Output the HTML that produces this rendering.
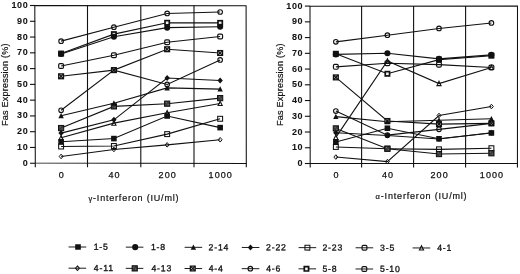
<!DOCTYPE html>
<html><head><meta charset="utf-8"><title>Fas Expression</title>
<style>
html,body{margin:0;padding:0;background:#fff;}
body{width:520px;height:274px;overflow:hidden;}
svg{display:block;}
text{stroke:#111;stroke-width:0.25px;font-family:"Liberation Sans",sans-serif;fill:#111;}
.t{font-size:9px;letter-spacing:0.6px;font-weight:bold;stroke-width:0.05px;}
.x{font-size:9px;letter-spacing:1.1px;}
.ti{font-size:9px;stroke-width:0.2px;}
.lg{font-size:8.7px;letter-spacing:0.8px;stroke-width:0.3px;}
</style></head><body>
<svg width="520" height="274" viewBox="0 0 520 274">
<rect width="520" height="274" fill="#fff"/>
<path d="M34.8 5.4L246.1 5.8L246.3 163.5L35.3 163.0Z" fill="none" stroke="#111" stroke-width="1.05"/>
<path d="M35.30 163.25V167.25" stroke="#111" stroke-width="1.1"/>
<path d="M87.50 5.5V167.25" stroke="#111" stroke-width="1.1"/>
<path d="M140.80 5.5V167.25" stroke="#111" stroke-width="1.1"/>
<path d="M194.00 5.5V167.25" stroke="#111" stroke-width="1.1"/>
<path d="M246.30 163.25V167.25" stroke="#111" stroke-width="1.1"/>
<path d="M30.00 163.25H35.2" stroke="#111" stroke-width="1.1"/>
<text x="28.30" y="165.75" text-anchor="end" class="t">0</text>
<path d="M30.00 147.47H35.2" stroke="#111" stroke-width="1.1"/>
<text x="28.30" y="149.97" text-anchor="end" class="t">10</text>
<path d="M30.00 131.70H35.2" stroke="#111" stroke-width="1.1"/>
<text x="28.30" y="134.20" text-anchor="end" class="t">20</text>
<path d="M30.00 115.93H35.2" stroke="#111" stroke-width="1.1"/>
<text x="28.30" y="118.43" text-anchor="end" class="t">30</text>
<path d="M30.00 100.15H35.2" stroke="#111" stroke-width="1.1"/>
<text x="28.30" y="102.65" text-anchor="end" class="t">40</text>
<path d="M30.00 84.38H35.2" stroke="#111" stroke-width="1.1"/>
<text x="28.30" y="86.88" text-anchor="end" class="t">50</text>
<path d="M30.00 68.60H35.2" stroke="#111" stroke-width="1.1"/>
<text x="28.30" y="71.10" text-anchor="end" class="t">60</text>
<path d="M30.00 52.83H35.2" stroke="#111" stroke-width="1.1"/>
<text x="28.30" y="55.33" text-anchor="end" class="t">70</text>
<path d="M30.00 37.05H35.2" stroke="#111" stroke-width="1.1"/>
<text x="28.30" y="39.55" text-anchor="end" class="t">80</text>
<path d="M30.00 21.28H35.2" stroke="#111" stroke-width="1.1"/>
<text x="28.30" y="23.78" text-anchor="end" class="t">90</text>
<path d="M30.00 5.50H35.2" stroke="#111" stroke-width="1.1"/>
<text x="28.30" y="8.00" text-anchor="end" class="t">100</text>
<text x="61.70" y="177.85" text-anchor="middle" class="x">0</text>
<text x="114.50" y="177.85" text-anchor="middle" class="x">40</text>
<text x="167.75" y="177.85" text-anchor="middle" class="x">200</text>
<text x="220.75" y="177.85" text-anchor="middle" class="x">1000</text>
<text x="88.5" y="200.6" textLength="90" lengthAdjust="spacing" class="ti"><tspan font-size='7.5'>γ</tspan>-Interferon (IU/ml)</text>
<text transform="translate(8.3 126.0) rotate(-90)" textLength="82.6" lengthAdjust="spacing" class="ti">Fas Expression (%)</text>
<path d="M61.10 156.45L113.90 149.47L167.15 144.85L220.15 139.76" fill="none" stroke="#111" stroke-width="1.1"/>
<path d="M61.10 146.51L113.90 146.00L167.15 134.12L220.15 118.78" fill="none" stroke="#111" stroke-width="1.1"/>
<path d="M61.10 141.78L113.90 138.58L167.15 115.98L220.15 127.62" fill="none" stroke="#111" stroke-width="1.1"/>
<path d="M61.10 137.83L113.90 123.12L167.15 112.83L220.15 103.48" fill="none" stroke="#111" stroke-width="1.1"/>
<path d="M61.10 133.10L113.90 119.81L167.15 77.97L220.15 80.45" fill="none" stroke="#111" stroke-width="1.1"/>
<path d="M61.10 128.05L113.90 106.40L167.15 103.68L220.15 98.12" fill="none" stroke="#111" stroke-width="1.1"/>
<path d="M61.10 76.31L113.90 70.12L167.15 49.25L220.15 53.00" fill="none" stroke="#111" stroke-width="1.1"/>
<path d="M61.10 115.75L113.90 103.25L167.15 87.90L220.15 89.12" fill="none" stroke="#111" stroke-width="1.1"/>
<path d="M61.10 110.23L113.90 70.12L167.15 84.43L220.15 59.94" fill="none" stroke="#111" stroke-width="1.1"/>
<path d="M61.10 66.06L113.90 55.29L167.15 42.31L220.15 36.44" fill="none" stroke="#111" stroke-width="1.1"/>
<path d="M61.10 41.13L113.90 27.21L167.15 13.45L220.15 11.98" fill="none" stroke="#111" stroke-width="1.1"/>
<path d="M61.10 53.60L113.90 34.15L167.15 22.75L220.15 22.87" fill="none" stroke="#111" stroke-width="1.1"/>
<path d="M61.10 53.91L113.90 36.68L167.15 27.64L220.15 26.81" fill="none" stroke="#111" stroke-width="1.1"/>
<path d="M61.10 154.15L63.05 156.45L61.10 158.75L59.15 156.45Z" fill="none" stroke="#111" stroke-width="1.0"/>
<path d="M113.90 147.17L115.85 149.47L113.90 151.77L111.95 149.47Z" fill="none" stroke="#111" stroke-width="1.0"/>
<path d="M167.15 142.55L169.10 144.85L167.15 147.15L165.20 144.85Z" fill="none" stroke="#111" stroke-width="1.0"/>
<path d="M220.15 137.46L222.10 139.76L220.15 142.06L218.20 139.76Z" fill="none" stroke="#111" stroke-width="1.0"/>
<rect x="58.65" y="144.06" width="4.9" height="4.9" fill="none" stroke="#111" stroke-width="1.05"/>
<rect x="111.45" y="143.55" width="4.9" height="4.9" fill="none" stroke="#111" stroke-width="1.05"/>
<rect x="164.70" y="131.67" width="4.9" height="4.9" fill="none" stroke="#111" stroke-width="1.05"/>
<rect x="217.70" y="116.33" width="4.9" height="4.9" fill="none" stroke="#111" stroke-width="1.05"/>
<rect x="58.30" y="138.98" width="5.6" height="5.6" fill="#111"/>
<rect x="111.10" y="135.78" width="5.6" height="5.6" fill="#111"/>
<rect x="164.35" y="113.18" width="5.6" height="5.6" fill="#111"/>
<rect x="217.35" y="124.82" width="5.6" height="5.6" fill="#111"/>
<path d="M61.10 135.53L63.20 139.93L59.00 139.93Z" fill="none" stroke="#111" stroke-width="1.05"/>
<path d="M113.90 120.82L116.00 125.22L111.80 125.22Z" fill="none" stroke="#111" stroke-width="1.05"/>
<path d="M167.15 110.53L169.25 114.93L165.05 114.93Z" fill="none" stroke="#111" stroke-width="1.05"/>
<path d="M220.15 101.18L222.25 105.58L218.05 105.58Z" fill="none" stroke="#111" stroke-width="1.05"/>
<path d="M61.10 130.10L63.80 133.10L61.10 136.10L58.40 133.10Z" fill="#111"/>
<path d="M113.90 116.81L116.60 119.81L113.90 122.81L111.20 119.81Z" fill="#111"/>
<path d="M167.15 74.97L169.85 77.97L167.15 80.97L164.45 77.97Z" fill="#111"/>
<path d="M220.15 77.45L222.85 80.45L220.15 83.45L217.45 80.45Z" fill="#111"/>
<rect x="58.50" y="125.45" width="5.2" height="5.2" fill="#3a3a3a" stroke="#111" stroke-width="1"/><path d="M59.90 126.85h0.9M61.60 128.95h0.9" stroke="#999" stroke-width="0.8" fill="none"/>
<rect x="111.30" y="103.80" width="5.2" height="5.2" fill="#3a3a3a" stroke="#111" stroke-width="1"/><path d="M112.70 105.20h0.9M114.40 107.30h0.9" stroke="#999" stroke-width="0.8" fill="none"/>
<rect x="164.55" y="101.08" width="5.2" height="5.2" fill="#3a3a3a" stroke="#111" stroke-width="1"/><path d="M165.95 102.48h0.9M167.65 104.58h0.9" stroke="#999" stroke-width="0.8" fill="none"/>
<rect x="217.55" y="95.52" width="5.2" height="5.2" fill="#3a3a3a" stroke="#111" stroke-width="1"/><path d="M218.95 96.92h0.9M220.65 99.02h0.9" stroke="#999" stroke-width="0.8" fill="none"/>
<rect x="58.70" y="73.91" width="4.8" height="4.8" fill="#e8e8e8" stroke="#111" stroke-width="1.3"/><path d="M58.70 73.91L63.50 78.71M63.50 73.91L58.70 78.71" stroke="#111" stroke-width="1.25" fill="none"/>
<rect x="111.50" y="67.72" width="4.8" height="4.8" fill="#e8e8e8" stroke="#111" stroke-width="1.3"/><path d="M111.50 67.72L116.30 72.52M116.30 67.72L111.50 72.52" stroke="#111" stroke-width="1.25" fill="none"/>
<rect x="164.75" y="46.85" width="4.8" height="4.8" fill="#e8e8e8" stroke="#111" stroke-width="1.3"/><path d="M164.75 46.85L169.55 51.65M169.55 46.85L164.75 51.65" stroke="#111" stroke-width="1.25" fill="none"/>
<rect x="217.75" y="50.60" width="4.8" height="4.8" fill="#e8e8e8" stroke="#111" stroke-width="1.3"/><path d="M217.75 50.60L222.55 55.40M222.55 50.60L217.75 55.40" stroke="#111" stroke-width="1.25" fill="none"/>
<path d="M61.10 112.85L63.80 118.25L58.40 118.25Z" fill="#111"/>
<path d="M113.90 100.35L116.60 105.75L111.20 105.75Z" fill="#111"/>
<path d="M167.15 85.00L169.85 90.40L164.45 90.40Z" fill="#111"/>
<path d="M220.15 86.22L222.85 91.62L217.45 91.62Z" fill="#111"/>
<circle cx="61.10" cy="110.23" r="2.3" fill="none" stroke="#111" stroke-width="1.1"/>
<circle cx="113.90" cy="70.12" r="2.3" fill="none" stroke="#111" stroke-width="1.1"/>
<circle cx="167.15" cy="84.43" r="2.3" fill="none" stroke="#111" stroke-width="1.1"/>
<circle cx="220.15" cy="59.94" r="2.3" fill="none" stroke="#111" stroke-width="1.1"/>
<rect x="58.70" y="63.66" width="4.8" height="4.8" rx="1.2" fill="none" stroke="#111" stroke-width="1.2"/>
<rect x="111.50" y="52.89" width="4.8" height="4.8" rx="1.2" fill="none" stroke="#111" stroke-width="1.2"/>
<rect x="164.75" y="39.91" width="4.8" height="4.8" rx="1.2" fill="none" stroke="#111" stroke-width="1.2"/>
<rect x="217.75" y="34.04" width="4.8" height="4.8" rx="1.2" fill="none" stroke="#111" stroke-width="1.2"/>
<circle cx="61.10" cy="41.13" r="2.3" fill="none" stroke="#111" stroke-width="1.1"/>
<circle cx="113.90" cy="27.21" r="2.3" fill="none" stroke="#111" stroke-width="1.1"/>
<circle cx="167.15" cy="13.45" r="2.3" fill="none" stroke="#111" stroke-width="1.1"/>
<circle cx="220.15" cy="11.98" r="2.3" fill="none" stroke="#111" stroke-width="1.1"/>
<rect x="58.95" y="51.45" width="4.3" height="4.3" fill="#f2f2f2" stroke="#111" stroke-width="1.7"/>
<rect x="111.75" y="32.00" width="4.3" height="4.3" fill="#f2f2f2" stroke="#111" stroke-width="1.7"/>
<rect x="165.00" y="20.60" width="4.3" height="4.3" fill="#f2f2f2" stroke="#111" stroke-width="1.7"/>
<rect x="218.00" y="20.72" width="4.3" height="4.3" fill="#f2f2f2" stroke="#111" stroke-width="1.7"/>
<circle cx="61.10" cy="53.91" r="3.05" fill="#111"/>
<circle cx="113.90" cy="36.68" r="3.05" fill="#111"/>
<circle cx="167.15" cy="27.64" r="3.05" fill="#111"/>
<circle cx="220.15" cy="26.81" r="3.05" fill="#111"/>
<path d="M310.0 6.2L517.5 6.1L517.45 163.5L310.2 163.5Z" fill="none" stroke="#111" stroke-width="1.05"/>
<path d="M310.20 163.5V167.5" stroke="#111" stroke-width="1.1"/>
<path d="M361.60 6.1V167.5" stroke="#111" stroke-width="1.1"/>
<path d="M413.60 6.1V167.5" stroke="#111" stroke-width="1.1"/>
<path d="M465.60 6.1V167.5" stroke="#111" stroke-width="1.1"/>
<path d="M517.45 163.5V167.5" stroke="#111" stroke-width="1.1"/>
<path d="M304.90 163.50H310.1" stroke="#111" stroke-width="1.1"/>
<text x="303.20" y="166.00" text-anchor="end" class="t">0</text>
<path d="M304.90 147.76H310.1" stroke="#111" stroke-width="1.1"/>
<text x="303.20" y="150.26" text-anchor="end" class="t">10</text>
<path d="M304.90 132.02H310.1" stroke="#111" stroke-width="1.1"/>
<text x="303.20" y="134.52" text-anchor="end" class="t">20</text>
<path d="M304.90 116.28H310.1" stroke="#111" stroke-width="1.1"/>
<text x="303.20" y="118.78" text-anchor="end" class="t">30</text>
<path d="M304.90 100.54H310.1" stroke="#111" stroke-width="1.1"/>
<text x="303.20" y="103.04" text-anchor="end" class="t">40</text>
<path d="M304.90 84.80H310.1" stroke="#111" stroke-width="1.1"/>
<text x="303.20" y="87.30" text-anchor="end" class="t">50</text>
<path d="M304.90 69.06H310.1" stroke="#111" stroke-width="1.1"/>
<text x="303.20" y="71.56" text-anchor="end" class="t">60</text>
<path d="M304.90 53.32H310.1" stroke="#111" stroke-width="1.1"/>
<text x="303.20" y="55.82" text-anchor="end" class="t">70</text>
<path d="M304.90 37.58H310.1" stroke="#111" stroke-width="1.1"/>
<text x="303.20" y="40.08" text-anchor="end" class="t">80</text>
<path d="M304.90 21.84H310.1" stroke="#111" stroke-width="1.1"/>
<text x="303.20" y="24.34" text-anchor="end" class="t">90</text>
<path d="M304.90 6.10H310.1" stroke="#111" stroke-width="1.1"/>
<text x="303.20" y="8.60" text-anchor="end" class="t">100</text>
<text x="336.45" y="178.10" text-anchor="middle" class="x">0</text>
<text x="388.00" y="178.10" text-anchor="middle" class="x">40</text>
<text x="439.60" y="178.10" text-anchor="middle" class="x">200</text>
<text x="492.00" y="178.10" text-anchor="middle" class="x">1000</text>
<text x="375.6" y="199.0" textLength="91" lengthAdjust="spacing" class="ti"><tspan font-size='7.5'>α</tspan>-Interferon (IU/ml)</text>
<text transform="translate(283.2 126.0) rotate(-90)" textLength="82.6" lengthAdjust="spacing" class="ti">Fas Expression (%)</text>
<path d="M335.85 157.05L387.40 161.61L439.00 115.49L491.40 106.52" fill="none" stroke="#111" stroke-width="1.1"/>
<path d="M335.85 146.97L387.40 148.70L439.00 149.33L491.40 148.23" fill="none" stroke="#111" stroke-width="1.1"/>
<path d="M335.85 141.94L387.40 128.24L439.00 138.79L491.40 132.96" fill="none" stroke="#111" stroke-width="1.1"/>
<path d="M335.85 137.37L387.40 61.03L439.00 83.54L491.40 67.49" fill="none" stroke="#111" stroke-width="1.1"/>
<path d="M335.85 132.81L387.40 135.48L439.00 138.95L491.40 132.81" fill="none" stroke="#111" stroke-width="1.1"/>
<path d="M335.85 128.40L387.40 148.70L439.00 154.06L491.40 153.27" fill="none" stroke="#111" stroke-width="1.1"/>
<path d="M335.85 77.40L387.40 121.00L439.00 124.15L491.40 123.36" fill="none" stroke="#111" stroke-width="1.1"/>
<path d="M335.85 116.59L387.40 121.79L439.00 120.22L491.40 118.80" fill="none" stroke="#111" stroke-width="1.1"/>
<path d="M335.85 111.09L387.40 135.17L439.00 129.34L491.40 123.36" fill="none" stroke="#111" stroke-width="1.1"/>
<path d="M335.85 66.86L387.40 63.24L439.00 64.65L491.40 67.49" fill="none" stroke="#111" stroke-width="1.1"/>
<path d="M335.85 41.83L387.40 35.22L439.00 28.45L491.40 22.94" fill="none" stroke="#111" stroke-width="1.1"/>
<path d="M335.85 53.79L387.40 73.78L439.00 59.62L491.40 55.68" fill="none" stroke="#111" stroke-width="1.1"/>
<path d="M335.85 54.42L387.40 53.32L439.00 58.83L491.40 54.89" fill="none" stroke="#111" stroke-width="1.1"/>
<path d="M335.85 154.75L337.80 157.05L335.85 159.35L333.90 157.05Z" fill="none" stroke="#111" stroke-width="1.0"/>
<path d="M387.40 159.31L389.35 161.61L387.40 163.91L385.45 161.61Z" fill="none" stroke="#111" stroke-width="1.0"/>
<path d="M439.00 113.19L440.95 115.49L439.00 117.79L437.05 115.49Z" fill="none" stroke="#111" stroke-width="1.0"/>
<path d="M491.40 104.22L493.35 106.52L491.40 108.82L489.45 106.52Z" fill="none" stroke="#111" stroke-width="1.0"/>
<rect x="333.40" y="144.52" width="4.9" height="4.9" fill="none" stroke="#111" stroke-width="1.05"/>
<rect x="384.95" y="146.25" width="4.9" height="4.9" fill="none" stroke="#111" stroke-width="1.05"/>
<rect x="436.55" y="146.88" width="4.9" height="4.9" fill="none" stroke="#111" stroke-width="1.05"/>
<rect x="488.95" y="145.78" width="4.9" height="4.9" fill="none" stroke="#111" stroke-width="1.05"/>
<rect x="333.05" y="139.14" width="5.6" height="5.6" fill="#111"/>
<rect x="384.60" y="125.44" width="5.6" height="5.6" fill="#111"/>
<rect x="436.20" y="135.99" width="5.6" height="5.6" fill="#111"/>
<rect x="488.60" y="130.16" width="5.6" height="5.6" fill="#111"/>
<path d="M335.85 135.07L337.95 139.47L333.75 139.47Z" fill="none" stroke="#111" stroke-width="1.05"/>
<path d="M387.40 58.73L389.50 63.13L385.30 63.13Z" fill="none" stroke="#111" stroke-width="1.05"/>
<path d="M439.00 81.24L441.10 85.64L436.90 85.64Z" fill="none" stroke="#111" stroke-width="1.05"/>
<path d="M491.40 65.19L493.50 69.59L489.30 69.59Z" fill="none" stroke="#111" stroke-width="1.05"/>
<path d="M335.85 129.81L338.55 132.81L335.85 135.81L333.15 132.81Z" fill="#111"/>
<path d="M387.40 132.48L390.10 135.48L387.40 138.48L384.70 135.48Z" fill="#111"/>
<path d="M439.00 135.95L441.70 138.95L439.00 141.95L436.30 138.95Z" fill="#111"/>
<path d="M491.40 129.81L494.10 132.81L491.40 135.81L488.70 132.81Z" fill="#111"/>
<rect x="333.25" y="125.80" width="5.2" height="5.2" fill="#3a3a3a" stroke="#111" stroke-width="1"/><path d="M334.65 127.20h0.9M336.35 129.30h0.9" stroke="#999" stroke-width="0.8" fill="none"/>
<rect x="384.80" y="146.10" width="5.2" height="5.2" fill="#3a3a3a" stroke="#111" stroke-width="1"/><path d="M386.20 147.50h0.9M387.90 149.60h0.9" stroke="#999" stroke-width="0.8" fill="none"/>
<rect x="436.40" y="151.46" width="5.2" height="5.2" fill="#3a3a3a" stroke="#111" stroke-width="1"/><path d="M437.80 152.86h0.9M439.50 154.96h0.9" stroke="#999" stroke-width="0.8" fill="none"/>
<rect x="488.80" y="150.67" width="5.2" height="5.2" fill="#3a3a3a" stroke="#111" stroke-width="1"/><path d="M490.20 152.07h0.9M491.90 154.17h0.9" stroke="#999" stroke-width="0.8" fill="none"/>
<rect x="333.45" y="75.00" width="4.8" height="4.8" fill="#e8e8e8" stroke="#111" stroke-width="1.3"/><path d="M333.45 75.00L338.25 79.80M338.25 75.00L333.45 79.80" stroke="#111" stroke-width="1.25" fill="none"/>
<rect x="385.00" y="118.60" width="4.8" height="4.8" fill="#e8e8e8" stroke="#111" stroke-width="1.3"/><path d="M385.00 118.60L389.80 123.40M389.80 118.60L385.00 123.40" stroke="#111" stroke-width="1.25" fill="none"/>
<rect x="436.60" y="121.75" width="4.8" height="4.8" fill="#e8e8e8" stroke="#111" stroke-width="1.3"/><path d="M436.60 121.75L441.40 126.55M441.40 121.75L436.60 126.55" stroke="#111" stroke-width="1.25" fill="none"/>
<rect x="489.00" y="120.96" width="4.8" height="4.8" fill="#e8e8e8" stroke="#111" stroke-width="1.3"/><path d="M489.00 120.96L493.80 125.76M493.80 120.96L489.00 125.76" stroke="#111" stroke-width="1.25" fill="none"/>
<path d="M335.85 113.69L338.55 119.09L333.15 119.09Z" fill="#111"/>
<path d="M387.40 118.89L390.10 124.29L384.70 124.29Z" fill="#111"/>
<path d="M439.00 117.31L441.70 122.72L436.30 122.72Z" fill="#111"/>
<path d="M491.40 115.90L494.10 121.30L488.70 121.30Z" fill="#111"/>
<circle cx="335.85" cy="111.09" r="2.3" fill="none" stroke="#111" stroke-width="1.1"/>
<circle cx="387.40" cy="135.17" r="2.3" fill="none" stroke="#111" stroke-width="1.1"/>
<circle cx="439.00" cy="129.34" r="2.3" fill="none" stroke="#111" stroke-width="1.1"/>
<circle cx="491.40" cy="123.36" r="2.3" fill="none" stroke="#111" stroke-width="1.1"/>
<rect x="333.45" y="64.46" width="4.8" height="4.8" rx="1.2" fill="none" stroke="#111" stroke-width="1.2"/>
<rect x="385.00" y="60.84" width="4.8" height="4.8" rx="1.2" fill="none" stroke="#111" stroke-width="1.2"/>
<rect x="436.60" y="62.25" width="4.8" height="4.8" rx="1.2" fill="none" stroke="#111" stroke-width="1.2"/>
<rect x="489.00" y="65.09" width="4.8" height="4.8" rx="1.2" fill="none" stroke="#111" stroke-width="1.2"/>
<circle cx="335.85" cy="41.83" r="2.3" fill="none" stroke="#111" stroke-width="1.1"/>
<circle cx="387.40" cy="35.22" r="2.3" fill="none" stroke="#111" stroke-width="1.1"/>
<circle cx="439.00" cy="28.45" r="2.3" fill="none" stroke="#111" stroke-width="1.1"/>
<circle cx="491.40" cy="22.94" r="2.3" fill="none" stroke="#111" stroke-width="1.1"/>
<rect x="333.70" y="51.64" width="4.3" height="4.3" fill="#f2f2f2" stroke="#111" stroke-width="1.7"/>
<rect x="385.25" y="71.63" width="4.3" height="4.3" fill="#f2f2f2" stroke="#111" stroke-width="1.7"/>
<rect x="436.85" y="57.47" width="4.3" height="4.3" fill="#f2f2f2" stroke="#111" stroke-width="1.7"/>
<rect x="489.25" y="53.53" width="4.3" height="4.3" fill="#f2f2f2" stroke="#111" stroke-width="1.7"/>
<circle cx="335.85" cy="54.42" r="3.05" fill="#111"/>
<circle cx="387.40" cy="53.32" r="3.05" fill="#111"/>
<circle cx="439.00" cy="58.83" r="3.05" fill="#111"/>
<circle cx="491.40" cy="54.89" r="3.05" fill="#111"/>
<g transform="rotate(0.16 77 247)">
<path d="M68.60 247.00h17.6" stroke="#111" stroke-width="0.95"/>
<rect x="75.20" y="244.20" width="5.6" height="5.6" fill="#111"/>
<text x="93.70" y="249.80" class="lg">1-5</text>
<path d="M125.80 247.00h17.6" stroke="#111" stroke-width="0.95"/>
<circle cx="135.20" cy="247.00" r="3.05" fill="#111"/>
<text x="151.00" y="249.80" class="lg">1-8</text>
<path d="M184.60 247.00h17.6" stroke="#111" stroke-width="0.95"/>
<path d="M193.40 244.10L196.10 249.50L190.70 249.50Z" fill="#111"/>
<text x="208.60" y="249.80" class="lg">2-14</text>
<path d="M241.80 247.00h17.6" stroke="#111" stroke-width="0.95"/>
<path d="M250.50 244.00L253.20 247.00L250.50 250.00L247.80 247.00Z" fill="#111"/>
<text x="266.10" y="249.80" class="lg">2-22</text>
<path d="M298.60 247.00h17.6" stroke="#111" stroke-width="0.95"/>
<rect x="304.95" y="244.55" width="4.9" height="4.9" fill="none" stroke="#111" stroke-width="1.05"/>
<text x="322.50" y="249.80" class="lg">2-23</text>
<path d="M355.60 247.00h17.6" stroke="#111" stroke-width="0.95"/>
<rect x="362.10" y="244.60" width="4.8" height="4.8" rx="1.2" fill="none" stroke="#111" stroke-width="1.2"/>
<text x="380.10" y="249.80" class="lg">3-5</text>
<path d="M412.60 247.00h17.6" stroke="#111" stroke-width="0.95"/>
<path d="M421.50 244.70L423.60 249.10L419.40 249.10Z" fill="none" stroke="#111" stroke-width="1.05"/>
<text x="437.20" y="249.80" class="lg">4-1</text>
<path d="M68.60 268.20h17.6" stroke="#111" stroke-width="0.95"/>
<path d="M77.50 265.90L79.45 268.20L77.50 270.50L75.55 268.20Z" fill="none" stroke="#111" stroke-width="1.0"/>
<text x="93.90" y="271.00" class="lg">4-11</text>
<path d="M125.80 268.20h17.6" stroke="#111" stroke-width="0.95"/>
<rect x="132.20" y="265.60" width="5.2" height="5.2" fill="#3a3a3a" stroke="#111" stroke-width="1"/><path d="M133.60 267.00h0.9M135.30 269.10h0.9" stroke="#999" stroke-width="0.8" fill="none"/>
<text x="151.50" y="271.00" class="lg">4-13</text>
<path d="M184.60 268.20h17.6" stroke="#111" stroke-width="0.95"/>
<rect x="190.40" y="265.80" width="4.8" height="4.8" fill="#e8e8e8" stroke="#111" stroke-width="1.3"/><path d="M190.40 265.80L195.20 270.60M195.20 265.80L190.40 270.60" stroke="#111" stroke-width="1.25" fill="none"/>
<text x="208.80" y="271.00" class="lg">4-4</text>
<path d="M241.80 268.20h17.6" stroke="#111" stroke-width="0.95"/>
<circle cx="250.40" cy="268.20" r="2.3" fill="none" stroke="#111" stroke-width="1.1"/>
<text x="266.30" y="271.00" class="lg">4-6</text>
<path d="M298.60 268.20h17.6" stroke="#111" stroke-width="0.95"/>
<rect x="304.35" y="266.05" width="4.3" height="4.3" fill="#f2f2f2" stroke="#111" stroke-width="1.7"/>
<text x="322.50" y="271.00" class="lg">5-8</text>
<path d="M355.60 268.20h17.6" stroke="#111" stroke-width="0.95"/>
<rect x="362.00" y="265.80" width="4.8" height="4.8" rx="1.2" fill="none" stroke="#111" stroke-width="1.2"/>
<text x="380.10" y="271.00" class="lg">5-10</text>
</g>
</svg>
</body></html>
